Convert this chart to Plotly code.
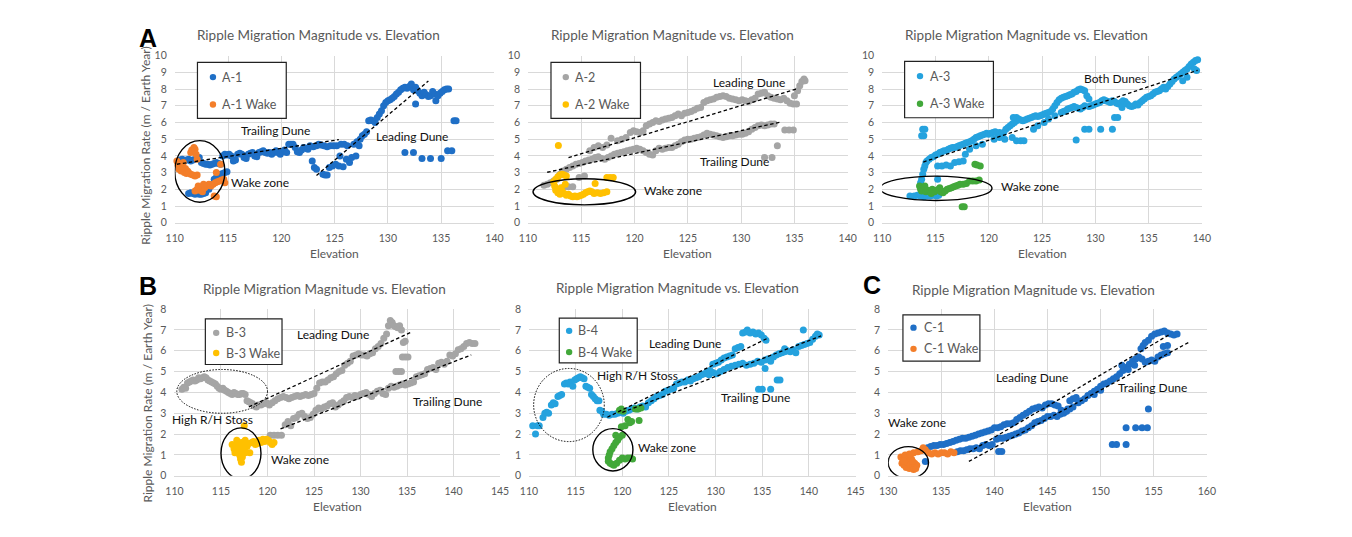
import plotly.graph_objects as go

W, H = 1352, 537
FONT = "Lato"
GRAY = "#595959"
GRID = "#d9d9d9"

BLUE = "#1f6fc6"
ORANGE = "#f37e2a"
LGRAY = "#a5a5a5"
YELLOW = "#ffc000"
LBLUE = "#25a2de"
GREEN = "#42a83a"

TITLE = "Ripple Migration Magnitude vs. Elevation"
YTITLE = "Ripple Migration Rate (m / Earth Year)"
XTITLE = "Elevation"

# ---------------- data (elevation, rate) ----------------
a1_pts = [(110.3,3.65),(110.5,3.75),(110.7,3.8),(110.9,3.7),(111.1,3.75),(111.3,3.8),(111.5,3.7),(111.7,3.75),(111.9,3.8),(112.1,3.85),(112.3,3.9),(112.5,3.6),(112.7,3.55),(112.9,3.5),(113.1,3.5),(113.3,3.45),(113.5,3.5),(113.7,3.55),(113.9,3.6),(114.1,3.55),(114.3,3.5),(114.5,4.0),(114.7,4.1),(114.9,4.05),
(111.3,1.75),(111.5,1.8),(111.7,1.75),(111.9,1.7),(112.1,1.75),(112.3,1.7),(112.5,1.7),(112.7,1.75),(112.9,1.8),(113.2,2.0),(113.5,2.3),(113.7,2.6),(113.9,2.7),(114.1,2.85),(114.3,2.9),(114.5,2.95),(114.7,3.0),(114.9,3.05),
(115.1,4.1),(115.3,4.0),(115.5,3.7),(115.7,3.75),(115.9,4.1),(116.1,4.15),(116.3,4.1),(116.5,3.9),(116.7,3.85),(116.9,4.1),(117.1,4.15),(117.3,4.2),(117.5,4.0),(117.7,3.95),(117.9,4.2),(118.1,4.25),(118.3,4.3),(118.5,4.2),(118.7,4.15),(118.9,4.2),(119.1,4.1),(119.3,4.2),(119.5,4.3),(119.7,4.2),(119.9,4.1),(120.1,4.25),(120.3,4.35),(120.5,4.2),(120.7,4.7),(120.9,4.7),(121.1,4.7),(121.3,4.5),(121.5,4.25),(121.7,4.2),(121.9,4.35),(122.1,4.5),(122.3,4.45),(122.5,4.4),(122.7,4.6),(122.9,3.7),(123.0,4.55),(123.1,3.3),(123.3,3.2),(123.3,4.6),(123.5,4.7),(123.7,4.65),(123.9,2.9),(124.0,4.6),(124.1,2.85),(124.3,2.85),(124.3,4.55),(124.5,3.3),(124.6,4.6),(124.8,3.4),(124.9,4.6),(125.1,3.5),(125.2,4.6),(125.4,3.4),(125.5,4.0),(125.6,4.7),(125.8,3.35),(125.9,4.7),(126.1,3.8),(126.2,4.6),(126.4,3.6),(126.6,3.9),(126.8,4.7),(127.0,4.0),(127.1,4.85),(127.3,4.6),(127.4,5.0),(127.6,5.2),(127.8,5.3),(128.0,5.45),(128.2,6.1),(128.4,6.15),(128.6,6.1),(128.8,6.0),(129.0,6.3),(129.2,6.5),(129.4,6.7),(129.6,7.0),(129.8,7.2),(130.0,7.3),(130.2,7.35),(130.4,7.45),(130.6,7.55),(130.8,7.7),(131.0,7.8),(131.2,7.95),(131.4,8.05),(131.6,8.1),(131.8,8.05),(132.0,8.15),(132.2,8.3),(132.4,7.95),(132.6,8.1),(132.8,7.9),(133.0,7.75),(133.2,7.6),(133.4,7.8),(133.6,7.65),(133.8,7.55),(134.0,7.6),(134.2,7.85),(134.4,7.7),(134.5,7.3),(134.7,7.6),(134.9,7.75),(135.1,7.85),(135.3,7.95),(135.5,8.0),(135.7,8.0),
(132.6,7.1),(131.6,4.2),(132.4,4.2),(133.2,3.85),(134.0,3.85),(135.0,3.85),(135.6,4.3),(136.0,4.3),(136.2,6.1),(136.4,6.1)]

a1_wake_pts = [(110.2,3.7),(110.3,3.45),(110.4,3.2),(110.5,3.55),(110.6,3.1),(110.7,3.35),(110.8,3.6),(110.9,3.0),(111.0,3.25),(111.1,2.95),(111.2,3.1),(111.3,3.0),(111.5,2.9),(111.7,2.85),(111.9,2.8),(112.1,2.85),(111.5,4.2),(111.6,4.35),(111.8,4.5),(111.9,4.4),(112.0,4.1),(112.1,3.8),(111.9,1.9),(112.1,2.0),(112.3,1.95),(112.5,2.0),(112.6,1.85),(112.8,2.1),(113.0,2.2),(113.2,2.3),(113.4,2.2),(113.6,2.3),(113.8,2.4),(114.0,2.45),(114.2,2.5),(114.4,2.55),(114.6,2.6),(114.7,2.4),(113.7,1.6),(113.9,1.55),(113.9,3.0),(114.3,3.5),(112.2,2.2),(112.7,2.3)]

a2_pts = [(111.5,2.25),(111.8,2.3),(112.1,2.4),(112.4,2.5),(112.7,2.6),(113.0,2.9),(113.3,3.1),(113.6,3.2),(113.9,3.3),(114.2,3.4),(114.5,3.5),(114.8,3.55),(115.1,3.6),(115.4,3.7),(115.7,3.75),(116.0,3.8),(116.3,3.9),(116.6,3.95),(116.9,3.85),(117.2,3.8),(117.5,3.9),(117.8,4.0),(118.1,4.1),(118.4,4.15),(118.7,4.2),(119.0,4.25),(119.3,4.3),(119.6,4.35),(119.9,4.4),(120.2,4.45),(120.5,4.4),(120.8,4.3),(121.1,4.2),(121.4,4.1),(121.7,4.05),(122.0,4.3),(122.3,4.45),(122.6,4.4),(122.9,4.45),(123.2,4.5),(123.5,4.5),(123.8,4.6),(124.1,4.7),(124.4,4.85),(124.7,4.95),(125.0,5.0),(125.3,5.0),(125.6,5.05),(125.9,5.1),(126.2,5.15),(126.5,5.25),(126.8,5.35),(127.1,5.3),(127.4,5.25),(127.7,5.2),(128.0,5.15),(128.3,5.1),(128.6,5.15),(128.9,5.2),(129.2,5.2),(129.5,5.25),(129.8,5.3),(130.1,5.3),(130.4,5.35),(130.7,5.45),(131.0,5.6),(131.3,5.7),(131.6,5.8),(131.9,5.85),(132.2,5.8),(132.5,5.85),(132.8,5.9),(133.1,5.9),
(132.2,3.9),(132.9,3.9),(133.4,4.6),(134.1,5.55),(134.5,5.55),(134.9,5.55),(113.4,2.15),(113.8,2.15),(114.2,2.15),(115.3,2.8),(114.8,2.7),
(115.8,4.3),(116.2,4.5),(116.6,4.6),(117.0,4.5),(117.4,4.65),(117.8,5.05),(118.4,4.9),(118.8,5.0),(119.2,5.1),(119.6,5.4),(119.9,5.5),(120.2,5.45),(120.5,5.4),(120.8,5.5),(121.1,5.8),(121.4,5.9),(121.7,6.0),(122.0,6.1),(122.3,6.05),(122.6,6.15),(122.9,6.2),(123.2,6.25),(123.5,6.3),(123.8,6.4),(124.1,6.5),(124.4,6.4),(124.7,6.55),(125.0,6.6),(125.3,6.65),(125.6,6.75),(125.9,6.85),(126.2,6.9),(126.5,7.2),(126.8,7.3),(127.1,7.35),(127.4,7.4),(127.7,7.5),(128.0,7.55),(128.3,7.6),(128.6,7.55),(128.9,7.45),(129.2,7.4),(129.5,7.35),(129.8,7.3),(130.1,7.35),(130.4,7.3),(130.7,7.25),(131.0,7.35),(131.3,7.45),(131.6,7.7),(131.9,7.75),(132.2,7.8),(132.5,7.6),(132.8,7.5),(133.1,7.45),(133.4,7.4),(133.7,7.35),(134.0,7.45),(134.3,7.3),(134.6,7.15),(134.9,7.1),(135.2,7.1),(135.0,7.6),(135.3,7.9),(135.5,8.2),(135.7,8.45),(135.9,8.6),(136.0,8.5)]

a2_wake_pts = [(112.85,4.62),(112.4,2.45),(112.6,2.6),(112.8,2.75),(113.0,2.85),(113.2,2.9),(113.4,2.85),(113.6,2.8),(112.5,2.2),(112.6,1.95),(112.8,1.8),(113.0,1.7),(113.2,1.9),(113.4,1.75),(113.6,1.65),(113.8,1.7),(114.0,1.6),(114.2,1.55),(114.4,1.6),(114.6,1.55),(114.8,1.6),(115.0,1.65),(115.2,1.7),(115.4,1.8),(115.6,1.85),(115.8,1.9),(116.0,1.85),(116.2,1.75),(116.5,1.8),(116.8,1.75),(117.1,1.8),(117.4,1.85),(116.3,2.35),(117.4,2.7),(117.7,2.7),(118.0,2.7),(113.1,2.1),(113.5,2.3)]

a3_pts = [(112.6,1.6),(113.0,1.6),(113.3,1.65),(113.6,1.6),(113.9,1.55),(114.2,1.6),(114.5,1.6),(114.8,1.65),(115.1,1.6),(115.3,1.65),
(113.6,2.4),(113.7,2.6),(113.8,2.9),(113.9,3.2),(114.0,3.4),(114.1,3.6),(113.7,5.2),(113.9,5.2),(113.8,5.6),(114.0,5.6),(115.2,2.6),
(114.2,3.7),(114.4,3.8),(114.6,3.9),(114.8,3.95),(115.0,4.05),(115.2,4.1),(115.4,4.2),(115.6,4.25),(115.8,4.3),(116.0,4.3),(116.2,4.4),(116.4,4.45),(116.6,4.5),(116.8,4.5),(117.0,4.55),(117.2,4.6),(117.4,4.65),(117.6,4.7),(117.8,4.75),(118.0,4.8),(118.2,4.85),(118.4,4.9),(118.6,5.0),(118.8,5.1),(119.0,5.15),(119.2,5.2),(119.4,5.25),(119.6,5.3),(119.8,5.35),(120.0,5.3),(120.2,5.35),(120.4,5.4),(120.6,5.45),(120.8,5.35),(121.0,5.4),(121.2,5.3),(121.4,5.4),(121.6,5.6),(121.8,5.7),(122.0,5.8),(122.2,5.9),(122.4,6.0),(122.6,6.1),(122.8,6.2),(123.0,6.15),(123.2,6.1),(123.4,6.15),(123.6,6.2),(123.8,6.25),(124.0,6.3),(124.2,6.35),(124.4,6.4),(124.6,6.35),(124.8,6.4),(125.0,6.45),(125.2,6.5),(125.4,6.55),(125.6,6.6),(125.8,6.65),(126.0,6.8),(126.2,7.0),(126.4,7.2),(126.6,7.35),(126.8,7.45),(127.0,7.5),(127.2,7.55),(127.4,7.6),(127.6,7.65),(127.8,7.7),(128.0,7.8),(128.2,7.85),(128.4,7.95),(128.6,8.0),(128.8,7.95),(129.0,7.9),(129.2,7.6),(129.4,7.4),
(126.8,6.6),(127.0,6.65),(127.2,6.7),(127.4,6.8),(127.6,6.85),(127.8,6.9),(128.0,6.95),(128.2,6.9),(128.4,6.85),(128.6,6.8),(128.8,6.9),(129.0,7.0),(129.4,6.95),(129.6,7.0),(129.8,7.05),(130.0,7.1),(130.2,7.15),(130.4,7.2),(130.6,7.3),(130.8,7.35),(131.0,7.3),(131.2,7.25),(131.4,7.2),(131.6,7.3),(131.8,7.25),(132.0,7.15),(132.2,7.1),(132.4,7.2),(132.6,7.3),(132.8,7.25),(133.0,7.1),(133.2,7.0),(133.4,6.95),(133.6,7.0),(133.8,7.1),(134.0,7.05),(134.2,7.2),(134.4,7.3),(134.6,7.4),(134.8,7.5),(135.0,7.55),(135.2,7.6),(135.4,7.7),(135.6,7.8),(135.8,7.85),(136.0,7.9),(136.2,8.0),(136.4,8.1),(136.6,8.0),(136.8,8.15),(137.0,8.3),(137.2,8.45),(137.4,8.6),(137.6,8.7),(137.8,8.8),(138.0,8.9),(138.2,9.0),(138.4,9.1),(138.6,9.2),(138.8,9.35),(139.0,9.5),(139.2,9.6),(139.4,9.7),(139.6,9.75),(139.3,9.2),(139.5,9.1),(138.6,8.7),(138.2,8.5),
(115.2,3.4),(115.6,3.4),(116.0,3.45),(116.4,3.4),(116.8,3.6),(117.2,3.65),(117.6,3.7),(117.8,4.1),(118.2,4.4),(118.8,4.6),(119.4,4.7),(120.5,5.0),(121.0,5.1),(121.5,5.0),(122.2,5.1),(122.6,4.9),(123.0,4.9),(123.3,4.9),(124.2,5.6),(124.6,5.8),(125.2,6.0),(128.2,4.95),(129.0,5.6),(129.4,5.6),(130.5,5.6),(131.6,5.6),(131.8,6.3),(132.1,6.3),(132.5,6.9),(125.6,6.2),(126.2,6.4),(122.6,6.3),(122.3,6.3)]

a3_wake_pts = [(113.5,2.2),(113.6,2.0),(113.7,1.9),(113.9,2.0),(114.1,1.85),(114.3,1.95),(114.5,1.9),(114.7,2.0),(114.9,1.85),(115.1,1.95),(115.3,2.0),(115.5,1.85),(115.7,1.8),(115.9,1.9),(116.1,2.0),(116.3,2.05),(116.5,2.1),(116.7,2.15),(116.9,2.2),(117.1,2.25),(117.3,2.3),(117.6,2.3),(117.9,2.35),(118.2,2.5),(118.5,2.5),(118.8,2.5),(119.1,2.55),(118.7,3.5),(118.9,3.45),(119.2,3.4),(117.5,0.95),(117.7,0.95),(114.0,2.2),(114.6,1.75),(115.4,2.1)]

b3_pts = [(110.8,4.15),(111.0,4.25),(111.2,4.2),(111.4,4.45),(111.6,4.5),(111.8,4.55),(112.0,4.6),(112.2,4.55),(112.4,4.6),(112.6,4.7),(112.8,4.65),(113.0,4.7),(113.2,4.75),(113.4,4.7),(113.6,4.6),(113.8,4.55),(114.0,4.5),(114.2,4.45),(114.4,4.4),(114.6,4.3),(114.8,4.2),(115.0,4.15),(115.2,4.2),(115.4,4.1),(115.6,4.05),(115.8,4.0),(116.0,3.95),(116.2,3.9),(116.4,4.0),(116.6,3.95),(116.8,3.9),(117.0,3.9),(117.2,3.95),(117.4,3.95),(117.6,3.9),(117.8,3.6),(118.0,3.55),(118.2,3.5),(118.4,3.45),(118.6,3.35),(118.8,3.3),(119.0,3.4),
(119.3,3.4),(119.6,3.45),(119.9,3.5),(120.2,3.4),(120.5,3.5),(120.8,3.6),(121.1,3.7),(121.4,3.75),(121.7,3.8),(122.0,3.75),(122.3,3.7),(122.6,3.75),(122.9,3.8),(123.2,3.85),(123.5,3.8),(123.8,3.85),(124.1,3.9),(124.4,3.85),(124.7,3.9),(125.0,3.95),(125.3,4.2),(125.6,4.45),(125.9,4.5),(126.2,4.5),(126.5,4.6),(126.8,4.7),(127.1,4.75),(127.4,4.9),(127.7,5.0),(128.0,5.05),(128.3,5.3),(128.6,5.4),(128.9,5.5),(129.2,5.75),(129.5,5.8),(129.8,5.85),(130.1,5.8),(130.4,5.8),(130.7,5.75),(131.0,5.85),(131.3,5.9),(131.6,6.1),(131.9,6.2),(132.2,6.35),(132.5,6.6),(132.8,6.8),(133.0,7.2),(133.2,7.45),(133.4,7.35),(133.6,7.2),(133.8,7.15),(134.0,7.1),(134.2,7.2),(134.4,7.0),(134.6,6.4),(134.8,6.45),(134.5,5.7),(134.8,5.7),(135.1,5.7),(133.8,5.0),(134.1,5.0),(134.4,5.0),
(120.3,1.95),(120.7,1.95),(121.1,1.95),(121.5,1.95),(121.9,2.45),(122.2,2.6),(122.5,2.4),(122.8,2.75),(123.1,2.8),(123.4,2.95),(123.7,3.0),(124.0,2.85),(124.3,2.75),(124.6,2.8),(124.9,2.95),(125.2,3.15),(125.5,3.25),(125.8,3.2),(126.1,3.3),(126.4,3.35),(126.7,3.45),(127.0,3.5),(127.3,3.3),(127.6,3.4),(127.9,3.5),(128.2,3.6),(128.5,3.75),(128.8,3.8),(129.1,3.75),(129.4,3.85),(129.7,3.8),(130.0,3.9),(130.3,3.95),(130.6,4.0),(130.9,3.9),(131.2,3.8),(131.5,3.95),(131.8,4.05),(132.1,4.1),(132.4,3.95),(132.7,3.9),(133.0,4.2),(133.3,4.3),(133.6,4.25),(133.9,4.3),(134.2,4.35),(134.5,4.4),(134.8,4.35),(135.1,4.4),(135.4,4.45),(135.7,4.5),(136.0,4.75),(136.3,4.8),(136.6,4.85),(136.9,4.9),(137.2,5.1),(137.5,5.15),(137.8,5.2),(138.1,5.1),(138.4,5.4),(138.7,5.45),(139.0,5.35),(139.3,5.5),(139.6,5.8),(139.9,5.75),(140.2,5.85),(140.5,6.05),(140.8,6.1),(141.1,6.2),(141.4,6.35),(141.7,6.4),(142.0,6.35),(142.3,6.35)]

b3_wake_pts = [(117.5,2.4),(116.2,1.5),(116.4,1.3),(116.5,1.1),(116.6,1.45),(116.8,1.55),(116.9,1.2),(117.0,1.0),(117.1,0.8),(117.2,0.65),(117.3,0.9),(117.0,1.35),(117.2,1.6),(117.4,1.5),(117.5,1.25),(117.6,1.1),(117.8,1.4),(118.0,1.55),(118.1,1.1),(118.3,1.6),(118.5,1.65),(118.7,1.5),(118.9,1.55),(119.1,1.7),(119.3,1.6),(119.5,1.75),(119.7,1.65),(119.9,1.75),(120.1,1.7),(120.3,1.6),(120.5,1.5),(120.7,1.6),(116.7,1.7),(117.6,1.7)]

b4_pts = [(110.4,2.4),(110.7,2.0),(110.9,2.4),(111.1,2.4),(111.5,2.8),(111.7,3.0),(111.9,3.05),(112.1,3.0),(112.4,3.4),(112.6,3.5),(112.8,3.45),(113.1,3.8),(113.3,3.85),(113.5,3.9),(113.8,4.4),(114.0,4.45),(114.2,4.4),(114.4,4.5),(114.7,4.3),(114.9,4.6),(115.1,4.65),(115.3,4.7),(115.5,4.75),(115.7,4.7),(115.9,4.65),(116.1,4.3),(116.3,4.25),(116.5,4.2),(116.7,3.9),(116.9,3.8),(117.1,3.7),(117.3,3.6),(117.5,3.6),(117.6,3.15),(117.8,3.1),(118.0,2.95),(118.3,2.95),(118.6,2.9),(118.9,2.95),
(119.2,2.95),(119.5,3.0),(119.8,3.05),(120.1,3.0),(120.4,3.1),(120.7,3.15),(121.0,3.2),(121.3,3.25),(121.6,3.2),(121.9,3.3),(122.2,3.35),(122.5,3.3),(122.8,3.5),(123.1,3.6),(123.4,3.7),(123.7,3.8),(124.0,3.85),(124.3,3.9),(124.6,4.05),(124.9,4.1),(125.2,4.15),(125.5,4.2),(125.8,4.4),(126.1,4.45),(126.4,4.5),(126.7,4.5),(127.0,4.6),(127.3,4.55),(127.6,4.65),(127.9,4.7),(128.2,4.75),(128.5,4.85),(128.8,4.9),(129.1,5.0),(129.4,5.05),(129.7,5.35),(130.0,5.4),(130.3,5.45),(130.6,5.55),(130.9,5.65),(131.2,5.7),(131.5,5.75),(131.8,5.8),(132.1,6.1),(132.4,6.15),(132.7,6.2),(132.9,6.85),(133.2,6.9),(133.4,7.0),(133.7,6.85),(134.0,6.9),(134.3,6.8),(134.6,6.85),(134.9,6.75),(135.2,6.6),(135.4,6.5),
(129.3,4.85),(129.7,4.95),(130.1,4.9),(130.5,5.0),(130.9,5.1),(131.3,5.2),(131.7,5.25),(132.1,5.3),(132.5,5.35),(132.9,5.4),(133.3,5.3),(133.7,5.35),(134.1,5.4),(134.5,5.5),(134.9,5.45),(135.3,5.55),(135.6,5.6),(135.9,5.5),(135.3,5.15),(134.6,4.15),(135.0,4.15),(135.9,4.15),(136.6,4.6),(136.9,4.6),(136.2,5.7),(136.5,5.8),(136.8,5.85),(137.1,5.9),(137.4,5.95),(137.7,6.0),(138.0,5.95),(138.3,6.05),(138.6,5.9),(138.9,6.2),(139.2,6.25),(139.5,6.3),(139.8,6.35),(140.1,6.4),(140.4,6.55),(140.7,6.7),(140.9,6.8),(141.1,6.75),(139.4,7.0),(137.4,6.1)]

b4_wake_pts = [(119.7,3.15),(119.9,3.2),(120.1,3.1),(120.6,2.7),(120.8,2.55),(121.0,2.6),(121.8,2.65),(121.4,3.2),(121.7,3.2),(122.0,3.25),(119.9,2.35),(120.3,2.4),(120.0,1.95),(119.7,1.85),(119.5,1.7),(119.3,1.6),(119.1,1.45),(118.9,1.3),(118.7,1.15),(118.6,1.0),(118.5,0.85),(118.5,0.7),(118.7,0.6),(118.9,0.55),(119.1,0.5),(119.4,0.6),(119.7,0.75),(120.0,0.85),(120.3,0.8),(120.6,0.85),(120.9,0.85),(121.1,0.8),(119.3,1.95)]

c1_pts = [(133.5,0.69),
(133.7,1.35),(134.0,1.4),(134.3,1.45),(134.6,1.45),(134.9,1.5),(135.2,1.5),(135.5,1.55),(135.8,1.6),(136.1,1.65),(136.4,1.7),(136.7,1.75),(137.0,1.8),(137.3,1.8),(137.6,1.85),(137.9,1.9),(138.2,1.95),(138.5,2.0),(138.8,2.05),(139.1,2.1),(139.4,2.15),(139.7,2.2),(140.0,2.3),(140.3,2.3),(140.6,2.35),(140.9,2.45),(141.2,2.5),(141.5,2.5),(141.8,2.55),(142.1,2.7),(142.4,2.8),(142.7,2.9),(143.0,3.0),(143.3,3.1),(143.6,3.2),(143.9,3.25),(144.2,3.3),(144.5,3.25),(144.8,3.4),(145.1,3.45),(145.4,3.45),(145.7,3.4),(146.0,3.35),(146.3,3.15),(146.6,3.05),(146.9,3.2),(147.1,3.6),(147.4,3.7),(147.7,3.75),
(136.5,1.15),(136.8,1.2),(137.1,1.2),(137.4,1.25),(137.7,1.3),(138.0,1.3),(138.3,1.35),(138.6,1.3),(138.9,1.45),(139.2,1.5),(139.5,1.45),(139.8,1.5),(140.4,1.17),(140.7,1.17),(140.2,1.75),(140.5,1.8),(140.8,1.8),(141.1,1.85),(141.4,1.9),(141.7,1.95),(142.0,2.0),(142.3,2.05),(142.6,2.15),(142.9,2.2),(143.2,2.3),(143.5,2.4),(143.8,2.55),(144.1,2.6),(144.4,2.65),(144.7,2.75),(145.0,2.85),(145.3,2.85),(145.6,2.9),(145.9,2.85),(146.2,2.95),(146.5,3.0),(146.8,3.1),(147.1,3.2),(147.4,3.3),
(147.9,3.5),(148.2,3.6),(148.5,3.7),(148.8,3.85),(149.1,3.95),(149.4,4.05),(149.7,4.15),(150.0,4.3),(150.3,4.4),(150.6,4.45),(150.9,4.55),(151.2,4.65),(151.5,4.75),(151.8,4.9),(152.1,5.05),(152.4,5.2),(152.7,5.35),(153.0,5.5),(153.3,5.6),(153.6,5.7),(153.9,5.6),(154.2,5.45),(154.5,5.5),(154.8,5.55),(155.1,5.5),(155.4,5.7),(155.7,5.8),(156.0,5.85),(156.3,5.9),(153.8,6.1),(154.0,6.25),(154.2,6.4),(154.5,6.5),(154.8,6.7),(155.1,6.8),(155.4,6.85),(155.7,6.9),(156.0,6.95),(156.3,6.85),(156.6,6.8),(156.9,6.75),(157.2,6.8),(155.9,6.2),(156.3,6.25),(152.0,5.3),(152.6,5.1),(153.2,5.3),(150.0,4.1),(149.4,3.9),
(151.1,1.5),(151.5,1.5),(152.4,1.5),(152.4,2.3),(153.3,2.3),(153.9,2.3),(154.4,2.3),(154.5,3.2)]

c1_wake_pts = [(131.2,0.9),(131.3,0.6),(131.4,0.75),(131.5,0.5),(131.6,0.85),(131.7,0.4),(131.8,0.65),(131.9,0.95),(132.0,0.35),(132.1,0.55),(132.2,0.8),(132.3,0.45),(132.4,0.3),(132.5,0.6),(132.6,0.35),(132.7,0.5),(131.6,1.0),(132.0,1.05),(132.4,1.1),(132.8,1.15),(133.1,1.2),(133.3,1.35),(133.5,1.25),(133.8,1.1),(134.1,1.05),(134.4,1.1),(134.7,1.05),(135.0,1.1),(135.3,1.1),(135.6,1.05),(135.9,1.15),(136.2,1.1),(131.5,0.7),(132.3,0.7)]

# trend lines: (x0, x1), (y0, y1)
a1_trends = [((110.2, 125.4), (3.5, 4.97)), ((123.3, 133.8), (2.83, 8.48))]
a2_trends = [((113.8, 135.2), (3.9, 8.0)), ((111.8, 133.6), (3.02, 6.0))]
a3_trends = [((113.85, 139.6), (3.63, 9.12))]
b3_trends = [((118.0, 135.5), (3.31, 6.9)), ((121.4, 141.9), (2.25, 5.8))]
b4_trends = [((118.4, 135.7), (2.81, 6.63)), ((120.0, 141.3), (3.04, 6.71))]
c1_trends = [((137.6, 156.5), (1.13, 6.78)), ((137.6, 158.4), (0.69, 6.43))]

# ellipses: x0, x1, y0, y1, dotted?
a1_ellipses = [(110.0, 114.7, 1.23, 4.91, False)]
a2_ellipses = [(110.47, 120.1, 1.07, 2.63, False)]
a3_ellipses = [(109.8, 120.3, 1.33, 2.79, False)]
b3_ellipses = [(110.25, 120.0, 3.0, 5.1, True), (115.0, 119.3, -0.15, 2.3, False)]
b4_ellipses = [(110.5, 118.07, 1.64, 5.15, True), (116.84, 121.14, 0.23, 2.26, False)]
c1_ellipses = [(130.0, 133.8, -0.13, 1.4, False)]

# labels: x, y, text
a1_labels = [(119.5, 5.52, "Trailing Dune"), (132.25, 5.13, "Leading Dune"), (118.0, 2.4, "Wake zone")]
a2_labels = [(130.7, 8.4, "Leading Dune"), (129.4, 3.65, "Trailing Dune"), (123.6, 1.9, "Wake zone")]
a3_labels = [(131.8, 8.6, "Both Dunes"), (123.9, 2.14, "Wake zone")]
b3_labels = [(127.0, 6.8, "Leading Dune"), (139.3, 3.55, "Trailing Dune"), (114.1, 2.7, "High R/H Stoss"), (123.5, 0.77, "Wake zone")]
b4_labels = [(126.7, 6.36, "Leading Dune"), (121.6, 4.8, "High R/H Stoss"), (134.3, 3.74, "Trailing Dune"), (124.8, 1.37, "Wake zone")]
c1_labels = [(143.5, 4.74, "Leading Dune"), (154.9, 4.24, "Trailing Dune"), (132.7, 2.54, "Wake zone")]

# ---------------- layout helpers ----------------
def fx(p):
    return p / W

def fy(p):
    return 1 - p / H

panels = [
    dict(dom=(168, 492, 50.7, 221.7), xr=(110, 140), yr=(0, 10),
         series=[("A-1", a1_pts, BLUE), ("A-1 Wake", a1_wake_pts, ORANGE)],
         trends=a1_trends, ell=a1_ellipses, labels=a1_labels,
         title=(314, 30), leg=dict(box=(191, 57.7, 281, 115), mx=206.7, tx=214, rows=(72.7, 100.7))),
    dict(dom=(526, 850, 50.7, 221.7), xr=(110, 140), yr=(0, 10),
         series=[("A-2", a2_pts, LGRAY), ("A-2 Wake", a2_wake_pts, YELLOW)],
         trends=a2_trends, ell=a2_ellipses, labels=a2_labels,
         title=(672, 30), leg=dict(box=(549.3, 57.7, 640, 115), mx=564.3, tx=572, rows=(72.7, 100.7))),
    dict(dom=(885, 1209, 50.7, 221.7), xr=(110, 140), yr=(0, 10),
         series=[("A-3", a3_pts, LBLUE), ("A-3 Wake", a3_wake_pts, GREEN)],
         trends=a3_trends, ell=a3_ellipses, labels=a3_labels,
         title=(1031, 30), leg=dict(box=(907.7, 56.7, 997.7, 114.3), mx=923.3, tx=931, rows=(71.7, 100))),
    dict(dom=(167.7, 497.7, 310, 480.5), xr=(110, 145), yr=(0, 8),
         series=[("B-3", b3_pts, LGRAY), ("B-3 Wake", b3_wake_pts, YELLOW)],
         trends=b3_trends, ell=b3_ellipses, labels=b3_labels,
         title=(319.5, 289.3), leg=dict(box=(199, 320, 276.7, 366.7), mx=210, tx=218, rows=(334.3, 355))),
    dict(dom=(527, 858, 310, 480.5), xr=(110, 145), yr=(0, 8),
         series=[("B-4", b4_pts, LBLUE), ("B-4 Wake", b4_wake_pts, GREEN)],
         trends=b4_trends, ell=b4_ellipses, labels=b4_labels,
         title=(678, 288.3), leg=dict(box=(557.7, 319.3, 636.7, 365), mx=567.7, tx=575, rows=(332.3, 354))),
    dict(dom=(891, 1214, 310, 480.5), xr=(130, 160), yr=(0, 8),
         series=[("C-1", c1_pts, BLUE), ("C-1 Wake", c1_wake_pts, ORANGE)],
         trends=c1_trends, ell=c1_ellipses, labels=c1_labels,
         title=(1038.5, 290), leg=dict(box=(906, 316, 984, 363.3), mx=916.7, tx=925, rows=(329, 350.7))),
]

fig = go.Figure()
layout = dict(width=W, height=H, margin=dict(l=0, r=0, t=0, b=0),
              paper_bgcolor="white", plot_bgcolor="white", showlegend=False,
              font=dict(family=FONT, color=GRAY))
shapes = []
annotations = []

for i, p in enumerate(panels):
    sfx = "" if i == 0 else str(i + 1)
    xa, ya = "x" + sfx, "y" + sfx
    l, r, t, b = p["dom"]
    layout["xaxis" + sfx] = dict(domain=[fx(l), fx(r)], range=list(p["xr"]), dtick=5, anchor=ya,
                                 showgrid=True, gridcolor=GRID, gridwidth=1, zeroline=False,
                                 showline=True, linecolor=GRID, linewidth=1, ticks="",
                                 tickfont=dict(family=FONT, size=10.5, color=GRAY),
                                 ticklabelstandoff=6, fixedrange=True)
    layout["yaxis" + sfx] = dict(domain=[fy(b), fy(t)], range=list(p["yr"]), dtick=1, anchor=xa,
                                 showgrid=True, gridcolor=GRID, gridwidth=1, zeroline=False,
                                 showline=False, ticks="",
                                 tickfont=dict(family=FONT, size=10.5, color=GRAY),
                                 ticklabelstandoff=7, fixedrange=True)
    for name, pts, col in p["series"]:
        fig.add_trace(go.Scatter(x=[q[0] for q in pts], y=[q[1] for q in pts], mode="markers", name=name,
                                 marker=dict(size=7, color=col, line=dict(width=0)),
                                 xaxis=xa, yaxis=ya, cliponaxis=False, hoverinfo="skip"))
    for (xs, ys) in p["trends"]:
        fig.add_trace(go.Scatter(x=list(xs), y=list(ys), mode="lines",
                                 line=dict(color="black", width=1.3, dash="3.5px,2.5px"),
                                 xaxis=xa, yaxis=ya, hoverinfo="skip"))
    for (x0, x1, y0, y1, dotted) in p["ell"]:
        shapes.append(dict(type="circle", xref=xa, yref=ya, x0=x0, x1=x1, y0=y0, y1=y1,
                           line=dict(color="black", width=1 if dotted else 1.4,
                                     dash="1.5px,1.5px" if dotted else "solid")))
    for (x, y, txt) in p["labels"]:
        annotations.append(dict(xref=xa, yref=ya, x=x, y=y, text=txt, showarrow=False,
                                font=dict(family=FONT, size=12, color="#111111")))
    # title
    tx_, ty_ = p["title"]
    annotations.append(dict(xref="paper", yref="paper", x=fx(tx_), y=fy(ty_), text=TITLE,
                            showarrow=False, xanchor="center", yanchor="middle",
                            font=dict(family=FONT, size=13.5, color=GRAY)))
    # x-axis title
    xt_y = 253.3 if i < 3 else 511.7
    annotations.append(dict(xref="paper", yref="paper", x=fx((l + r) / 2), y=fy(xt_y), text=XTITLE,
                            showarrow=False, xanchor="center", yanchor="middle",
                            font=dict(family=FONT, size=12, color=GRAY)))
    # legend box
    lg = p["leg"]
    bx0, by0, bx1, by1 = lg["box"]
    shapes.append(dict(type="rect", xref="paper", yref="paper", x0=fx(bx0), x1=fx(bx1),
                       y0=fy(by1), y1=fy(by0), line=dict(color="#222222", width=1.2),
                       fillcolor="white", layer="above"))
    for (name, pts, col), ry in zip(p["series"], lg["rows"]):
        shapes.append(dict(type="circle", xref="paper", yref="paper", xsizemode="pixel", ysizemode="pixel",
                           xanchor=fx(lg["mx"]), yanchor=fy(ry), x0=-3.2, x1=3.2, y0=-3.2, y1=3.2,
                           fillcolor=col, line=dict(width=0), layer="above"))
        annotations.append(dict(xref="paper", yref="paper", x=fx(lg["tx"]), y=fy(ry), text=name,
                                showarrow=False, xanchor="left", yanchor="middle",
                                font=dict(family=FONT, size=12.5, color=GRAY)))

# y-axis titles
for (xp, yp) in [(138.3, 142.5), (140, 406.5)]:
    annotations.append(dict(xref="paper", yref="paper", x=fx(xp), y=fy(yp), text=YTITLE, textangle=-90,
                            showarrow=False, xanchor="center", yanchor="middle",
                            font=dict(family=FONT, size=12, color=GRAY)))

# panel letters
for (txt, xp, yp) in [("A", 141, 32.5), ("B", 141, 286.5), ("C", 875, 285)]:
    annotations.append(dict(xref="paper", yref="paper", x=fx(xp), y=fy(yp), text="<b>" + txt + "</b>",
                            showarrow=False, xanchor="center", yanchor="middle",
                            font=dict(family="Liberation Sans", size=25, color="black")))

layout["shapes"] = shapes
layout["annotations"] = annotations
fig.update_layout(**layout)
fig.write_html("out.html")
